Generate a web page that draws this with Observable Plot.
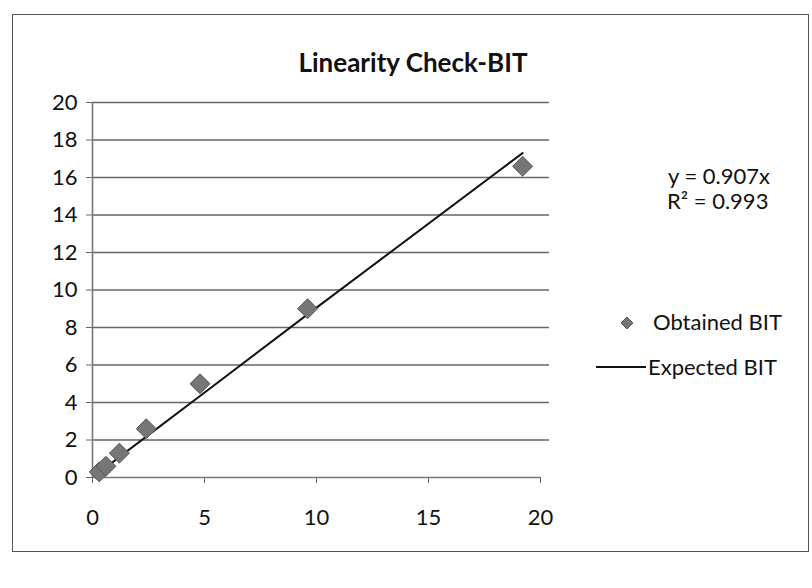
<!DOCTYPE html>
<html><head><meta charset="utf-8">
<script src="https://cdn.jsdelivr.net/npm/d3@7"></script>
<script src="https://cdn.jsdelivr.net/npm/@observablehq/plot@0.6"></script>
<style>
body{margin:0;background:#fff;font-family:Lato,"Open Sans",sans-serif;}
#wrap{position:relative;width:812px;height:588px;overflow:hidden;}
#border{position:absolute;left:12px;top:14px;width:797px;height:538px;border:1.5px solid #555;box-sizing:border-box;}
#title{position:absolute;left:0;width:826px;top:46px;text-align:center;font-weight:bold;font-size:26px;color:#111;}
.lg{position:absolute;font-size:22px;color:#111;white-space:nowrap;}
svg{position:absolute;left:0;top:0;}
</style></head><body>
<div id="wrap">
<div id="border"></div>
<div id="title">Linearity Check-BIT</div>
<div class="lg" style="left:668px;top:162px;">y = 0.907x</div>
<div class="lg" style="left:667px;top:187px;">R² = 0.993</div>
<div class="lg" style="left:653px;top:308px;">Obtained BIT</div>
<div class="lg" style="left:648px;top:353px;">Expected BIT</div>
</div>
<script>
const concentration = [0.3, 0.6, 1.2, 2.4, 4.8, 9.6, 19.2];
const obtainedBIT = [0.3, 0.6, 1.3, 2.6, 5.0, 9.0, 16.6];
const expectedBIT = [0.27, 0.54, 1.09, 2.18, 4.35, 8.7, 17.3];
const xTicks = [0, 5, 10, 15, 20];
const yTicks = [0, 2, 4, 6, 8, 10, 12, 14, 16, 18, 20];
const legendNames = ["Obtained BIT", "Expected BIT"];

const pts = concentration.map((x, i) => ({x, obtained: obtainedBIT[i], expected: expectedBIT[i]}));

const chart = Plot.plot({
  width: 812, height: 588,
  marginLeft: 92, marginRight: 272, marginTop: 102, marginBottom: 111,
  style: {fontFamily: "Lato, 'Open Sans', sans-serif", fontSize: "22px", color: "#111", background: "transparent"},
  x: {domain: [0, 20], ticks: xTicks, label: null},
  y: {domain: [0, 20], ticks: yTicks, label: null},
  marks: [
    Plot.ruleY(yTicks.filter(d => d > 0), {x1: 0, x2: 20.4, stroke: "#666", strokeWidth: 1.6}),
    Plot.axisY({ticks: yTicks, tickSize: 6, tickPadding: 9, stroke: "#666", fontSize: 22, label: null}),
    Plot.axisX({ticks: xTicks, tickSize: 6, tickPadding: 26, stroke: "#666", fontSize: 22, label: null}),
    Plot.ruleX([0], {y1: 0, y2: 20, stroke: "#777", strokeWidth: 1.6}),
    Plot.ruleY([0], {x1: 0, x2: 20, stroke: "#777", strokeWidth: 1.6}),
    Plot.line(pts, {x: "x", y: "expected", stroke: "#111", strokeWidth: 2}),
    Plot.dot(pts, {x: "x", y: "obtained", symbol: "diamond2", r: 9, fill: "#767676", stroke: "#555", strokeWidth: 1})
  ]
});
document.getElementById("wrap").appendChild(chart);

// legend symbols
const svg = d3.select(chart);
svg.append("path").attr("d", d3.symbol(d3.symbolDiamond2, 90)()).attr("transform", "translate(627,323)")
  .attr("fill", "#767676").attr("stroke", "#555");
svg.append("line").attr("x1", 596).attr("x2", 646).attr("y1", 367).attr("y2", 367).attr("stroke", "#111").attr("stroke-width", 2);
</script>
</body></html>
